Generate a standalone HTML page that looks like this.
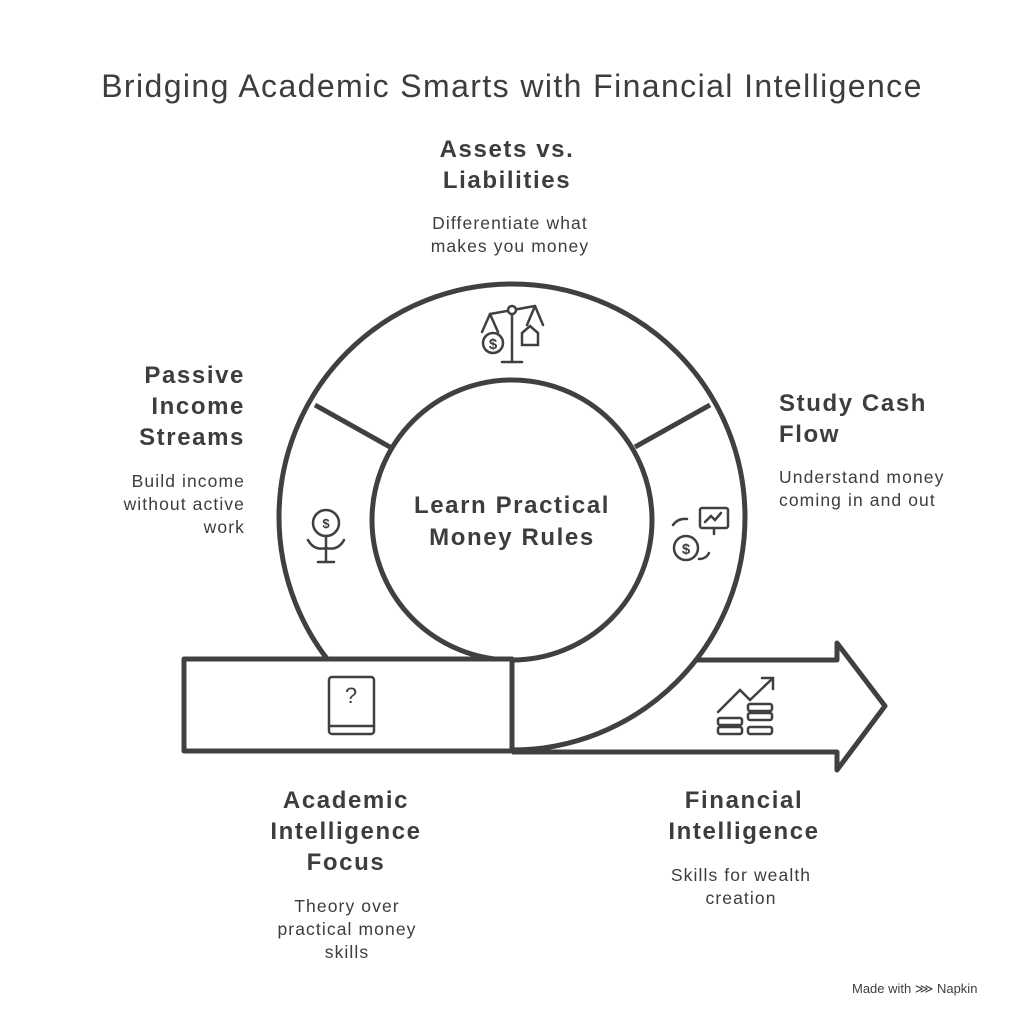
<!DOCTYPE html>
<html><head><meta charset="utf-8"><style>
body{margin:0;background:#fff}
svg{display:block}
text{font-family:"Liberation Sans",sans-serif;fill:#3d3d3d}
.h{font-size:24px;font-weight:bold;letter-spacing:1.6px}
.d{font-size:17.5px;letter-spacing:1.1px}
</style></head><body>
<svg width="1024" height="1024" viewBox="0 0 1024 1024">
<rect width="1024" height="1024" fill="#fff"/>
<text x="512" y="97" text-anchor="middle" font-size="32" letter-spacing="1.4">Bridging Academic Smarts with Financial Intelligence</text>
<g stroke="#404040" stroke-width="5" fill="#fff" stroke-linejoin="round">
<path d="M512 660 L837 660 L837 643 L885 706 L837 770 L837 752 L512 752"/>
<circle cx="512" cy="517" r="233"/>
<circle cx="512" cy="520" r="140"/>
<line x1="315" y1="405" x2="390" y2="447"/>
<line x1="710" y1="405" x2="635" y2="447"/>
<rect x="184" y="659" width="328" height="92"/>
</g>
<g stroke="#404040" stroke-width="2.5" fill="none" stroke-linecap="round">
<line x1="512" y1="310" x2="512" y2="362"/><line x1="502" y1="362" x2="522" y2="362"/>
<line x1="490" y1="314" x2="535" y2="306"/><circle cx="512" cy="310" r="4" fill="#fff"/>
<path d="M490 314 L482 332 M490 314 L498 332 M535 306 L527 325 M535 306 L543 325"/>
<circle cx="493" cy="343" r="10"/><path d="M522 345 L522 333 L530 326 L538 333 L538 345Z"/>
<rect x="329" y="677" width="45" height="57" rx="3"/><line x1="329" y1="726" x2="374" y2="726"/>
<path d="M718 712 L740 690 L750 700 L773 678 M762 678 H773 V689"/>
<rect x="718" y="718" width="24" height="7" rx="2"/><rect x="718" y="727" width="24" height="7" rx="2"/>
<rect x="748" y="704" width="24" height="7" rx="2"/><rect x="748" y="713" width="24" height="7" rx="2"/><rect x="748" y="727" width="24" height="7" rx="2"/>
<rect x="700" y="508" width="28" height="20" rx="2"/><path d="M705 522 l6 -6 4 4 6 -7"/><line x1="714" y1="528" x2="714" y2="534"/>
<circle cx="686" cy="548" r="12"/><path d="M673 525 q5 -7 14 -6 M709 553 q-3 6 -10 6"/>
<circle cx="326" cy="523" r="13"/><path d="M326 536 V562 M326 548 q-12 3 -18 -8 M326 548 q12 3 18 -8 M318 562 H334"/>
</g>
<g font-size="15" font-weight="bold" fill="#404040"><text x="493" y="349" text-anchor="middle">$</text><text x="686" y="554" text-anchor="middle">$</text><text x="326" y="528" text-anchor="middle" font-size="13">$</text><text x="351" y="703" text-anchor="middle" font-size="22" font-weight="normal">?</text></g>
<text class="h" x="512" y="513" text-anchor="middle">Learn Practical</text>
<text class="h" x="512" y="545" text-anchor="middle">Money Rules</text>
<text class="h" x="507" y="157" text-anchor="middle">Assets vs.</text>
<text class="h" x="507" y="188" text-anchor="middle">Liabilities</text>
<text class="d" x="510" y="229" text-anchor="middle">Differentiate what</text>
<text class="d" x="510" y="252" text-anchor="middle">makes you money</text>
<text class="h" x="245" y="383" text-anchor="end">Passive</text>
<text class="h" x="245" y="414" text-anchor="end">Income</text>
<text class="h" x="245" y="445" text-anchor="end">Streams</text>
<text class="d" x="245" y="487" text-anchor="end">Build income</text>
<text class="d" x="245" y="510" text-anchor="end">without active</text>
<text class="d" x="245" y="533" text-anchor="end">work</text>
<text class="h" x="779" y="411">Study Cash</text>
<text class="h" x="779" y="442">Flow</text>
<text class="d" x="779" y="483">Understand money</text>
<text class="d" x="779" y="506">coming in and out</text>
<text class="h" x="346" y="808" text-anchor="middle">Academic</text>
<text class="h" x="346" y="839" text-anchor="middle">Intelligence</text>
<text class="h" x="346" y="870" text-anchor="middle">Focus</text>
<text class="d" x="347" y="912" text-anchor="middle">Theory over</text>
<text class="d" x="347" y="935" text-anchor="middle">practical money</text>
<text class="d" x="347" y="958" text-anchor="middle">skills</text>
<text class="h" x="744" y="808" text-anchor="middle">Financial</text>
<text class="h" x="744" y="839" text-anchor="middle">Intelligence</text>
<text class="d" x="741" y="881" text-anchor="middle">Skills for wealth</text>
<text class="d" x="741" y="904" text-anchor="middle">creation</text>
<text x="852" y="993" font-size="13" fill="#999">Made with ⋙ Napkin</text>
</svg>
</body></html>
